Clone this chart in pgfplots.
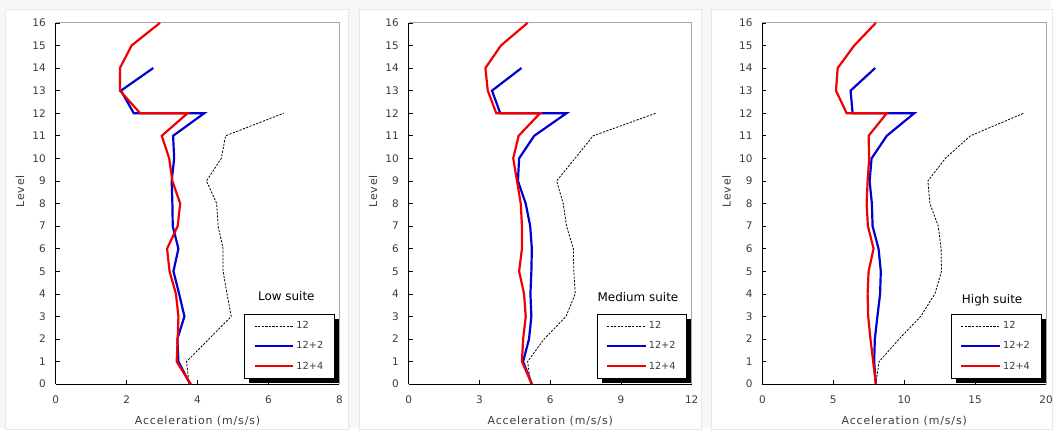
\documentclass[border=0pt]{standalone}
\usepackage{fontspec}
\setmainfont{DejaVu Sans}
\newfontfamily\labfont[LetterSpace=8]{DejaVu Sans}
\usepackage{pgfplots}
\pgfplotsset{compat=1.18}
\pgfdeclarelayer{bgzero}
\pgfdeclarelayer{background}
\pgfsetlayers{bgzero,background,main}
\definecolor{myblue}{RGB}{0,0,210}
\definecolor{myred}{RGB}{240,0,0}
\definecolor{tickgray}{RGB}{60,60,60}

\pgfplotsset{
  panel/.style={
    scale only axis, height=363pt,
    ymin=0, ymax=16, ytick={0,...,16}, xmin=0,
    clip=false,
    axis x line*=bottom, axis y line*=left,
    axis line style={-, black, line width=0.8pt},
    tick style={black, line width=0.6pt}, major tick length=4pt,
    tick align=inside,
    /pgf/number format/assume math mode=true,
    ticklabel style={font=\fontsize{10.5}{12}\selectfont, text=tickgray},
    xticklabel style={yshift=-8pt},
    yticklabel style={xshift=-6.5pt},
    xlabel={Acceleration (m/s/s)},
    ylabel={Level},
    xlabel style={font=\labfont\fontsize{11}{13}\selectfont, text=tickgray, at={(axis description cs:0.5,-0.101)}, anchor=center},
    ylabel style={font=\labfont\fontsize{11}{13}\selectfont, text=tickgray, at={(axis description cs:-0.126,0.534)}, anchor=center, rotate=0},
    legend style={at={(0.983,0.195)}, anchor=north east, draw=black, line width=0.7pt, fill=white,
      font=\fontsize{9.8}{11}\selectfont, text=tickgray,
      row sep=7.5pt, inner xsep=9pt, inner ysep=5.5pt, cells={anchor=west}},
    legend image code/.code={\draw[#1] (0pt,0pt) -- (39pt,0pt);},
  },
  s12/.style={black, line width=0.8pt, dash pattern=on 2.2pt off 1.4pt},
  s122/.style={myblue, line width=2.2pt},
  s124/.style={myred, line width=2.2pt},
}

\begin{document}
\begin{tikzpicture}[x=1pt,y=1pt]
\begin{pgfonlayer}{bgzero}
\fill[gray!6] (0,0) rectangle (1056,430);
\draw[gray!18, fill=white] (5,-1) rectangle (350,421);
\draw[gray!18, fill=white] (361,-1) rectangle (705,421);
\draw[gray!18, fill=white] (715,-1) rectangle (1057,421);
\end{pgfonlayer}

% ---------- Low suite ----------
\begin{axis}[panel, at={(56pt,44pt)}, anchor=south west, width=285pt,
  xmax=8, xtick={0,2,...,8}, legend style={name=L1}]
\draw[gray!70, line width=0.8pt] (rel axis cs:0,1) -- (rel axis cs:1,1) -- (rel axis cs:1,0);
\addplot[s12] coordinates {(3.76,0)(3.69,1)(4.32,2)(4.95,3)(4.83,4)(4.72,5)(4.72,6)(4.58,7)(4.54,8)(4.25,9)(4.67,10)(4.79,11)(6.43,12)};
\addplot[s122] coordinates {(3.79,0)(3.46,1)(3.43,2)(3.63,3)(3.48,4)(3.32,5)(3.46,6)(3.30,7)(3.29,8)(3.27,9)(3.34,10)(3.31,11)(4.19,12)(2.20,12)(1.84,13)(2.75,14)};
\addplot[s124] coordinates {(3.81,0)(3.41,1)(3.44,2)(3.46,3)(3.39,4)(3.21,5)(3.14,6)(3.44,7)(3.51,8)(3.29,9)(3.20,10)(2.99,11)(3.72,12)(2.38,12)(1.81,13)(1.81,14)(2.14,15)(2.94,16)};
\legend{12,12+2,12+4}
\node[font=\fontsize{12}{14}\selectfont] at (rel axis cs:0.813,0.243) {Low suite};
\end{axis}

% ---------- Medium suite ----------
\begin{axis}[panel, at={(410.7pt,44pt)}, anchor=south west, width=284.3pt,
  xmax=12, xtick={0,3,...,12}, legend style={name=L2}]
\draw[gray!70, line width=0.8pt] (rel axis cs:0,1) -- (rel axis cs:1,1) -- (rel axis cs:1,0);
\addplot[s12] coordinates {(5.18,0)(5.04,1)(5.74,2)(6.67,3)(7.06,4)(7.00,5)(6.98,6)(6.69,7)(6.55,8)(6.27,9)(7.05,10)(7.82,11)(10.48,12)};
\addplot[s122] coordinates {(5.22,0)(4.85,1)(5.10,2)(5.20,3)(5.16,4)(5.20,5)(5.22,6)(5.15,7)(4.96,8)(4.63,9)(4.68,10)(5.32,11)(6.69,12)(3.88,12)(3.53,13)(4.78,14)};
\addplot[s124] coordinates {(5.22,0)(4.80,1)(4.85,2)(4.96,3)(4.89,4)(4.68,5)(4.80,6)(4.80,7)(4.75,8)(4.59,9)(4.43,10)(4.66,11)(5.57,12)(3.71,12)(3.35,13)(3.25,14)(3.91,15)(5.04,16)};
\legend{12,12+2,12+4}
\node[font=\fontsize{12}{14}\selectfont] at (rel axis cs:0.81,0.24) {Medium suite};
\end{axis}

% ---------- High suite ----------
\begin{axis}[panel, at={(766pt,44pt)}, anchor=south west, width=285pt,
  xmax=20, xtick={0,5,...,20}, legend style={name=L3}]
\draw[gray!70, line width=0.8pt] (rel axis cs:0,1) -- (rel axis cs:1,1) -- (rel axis cs:1,0);
\addplot[s12] coordinates {(8.00,0)(8.23,1)(9.64,2)(11.16,3)(12.16,4)(12.63,5)(12.60,6)(12.40,7)(11.81,8)(11.67,9)(12.90,10)(14.67,11)(18.43,12)};
\addplot[s122] coordinates {(8.00,0)(7.88,1)(7.93,2)(8.11,3)(8.30,4)(8.35,5)(8.19,6)(7.77,7)(7.72,8)(7.56,9)(7.70,10)(8.77,11)(10.71,12)(6.36,12)(6.22,13)(7.95,14)};
\addplot[s124] coordinates {(8.00,0)(7.81,1)(7.62,2)(7.46,3)(7.42,4)(7.49,5)(7.84,6)(7.44,7)(7.35,8)(7.42,9)(7.53,10)(7.49,11)(8.77,12)(5.94,12)(5.19,13)(5.31,14)(6.48,15)(8.00,16)};
\legend{12,12+2,12+4}
\node[font=\fontsize{12}{14}\selectfont] at (rel axis cs:0.81,0.232) {High suite};
\end{axis}

\begin{pgfonlayer}{background}
\foreach \L in {L1,L2,L3}{
  \fill[black] ([shift={(5pt,-5pt)}]\L.south west) rectangle ([shift={(5pt,-5pt)}]\L.north east);
}
\end{pgfonlayer}
\end{tikzpicture}
\end{document}
